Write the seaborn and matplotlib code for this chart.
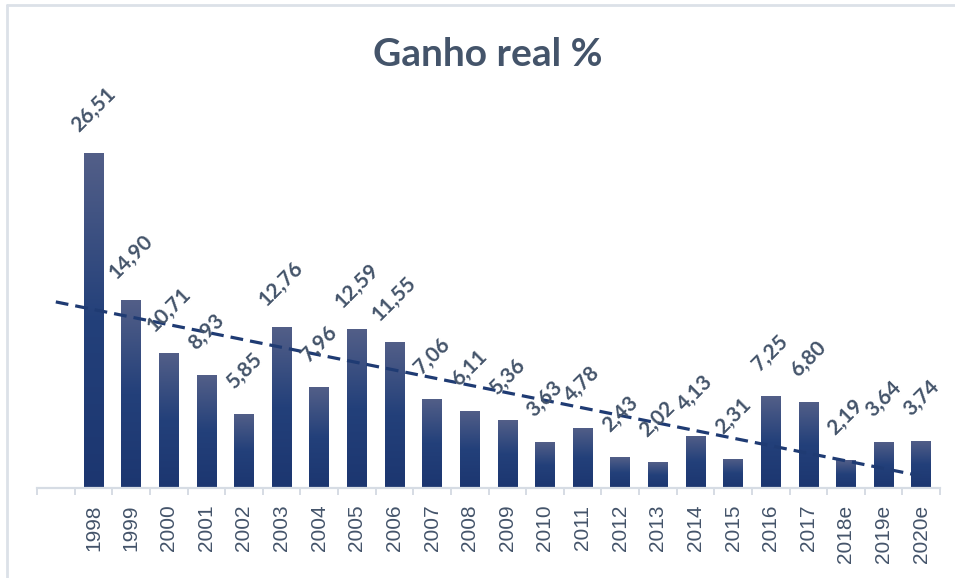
import numpy as np
import pandas as pd
import matplotlib
matplotlib.use("Agg")
import matplotlib.pyplot as plt
from matplotlib.colors import LinearSegmentedColormap
import seaborn as sns

# dados do gráfico
anos = ["1998", "1999", "2000", "2001", "2002", "2003", "2004", "2005", "2006",
        "2007", "2008", "2009", "2010", "2011", "2012", "2013", "2014", "2015",
        "2016", "2017", "2018e", "2019e", "2020e"]
ganho = [26.51, 14.90, 10.71, 8.93, 5.85, 12.76, 7.96, 12.59, 11.55, 7.06, 6.11,
         5.36, 3.63, 4.78, 2.43, 2.02, 4.13, 2.31, 7.25, 6.80, 2.19, 3.64, 3.74]
rotulos = [f"{v:.2f}".replace(".", ",") for v in ganho]

df = pd.DataFrame({"ano": anos, "ganho": ganho})
ordem = [" "] + anos  # primeira categoria vazia

sns.set_theme(style="white")
plt.rcParams["font.family"] = ["Lato", "DejaVu Sans"]

texto = "#44546A"
linha = "#1F3B73"

fig = plt.figure(figsize=(9.55, 5.78), dpi=100)
ax = fig.add_axes([37 / 955, 90 / 578, 903 / 955, (488 - 108.5) / 578])

sns.barplot(data=df, x="ano", y="ganho", order=ordem, color=linha, width=0.52,
            ax=ax, saturation=1)

# gradiente em cada barra
cmap = LinearSegmentedColormap.from_list(
    "grad", [(0.0, "#1C3670"), (0.5, "#23407A"), (1.0, "#535F88")])
grad = np.linspace(0, 1, 256).reshape(-1, 1)
for p in ax.patches:
    x0, w, h = p.get_x(), p.get_width(), p.get_height()
    if h <= 0 or np.isnan(h):
        continue
    im = ax.imshow(grad, cmap=cmap, origin="lower", aspect="auto",
                   extent=[x0, x0 + w, 0, h], zorder=2)
    im.set_clip_path(p)
    p.set_facecolor("none")
    p.set_edgecolor("none")

# rótulos de dados
for i, (v, r) in enumerate(zip(ganho, rotulos)):
    ax.annotate(r, (i + 1, v), xytext=(0, 31), textcoords="offset points",
                ha="center", va="center", rotation=45, rotation_mode="anchor",
                fontsize=15, fontweight="bold", color=texto, zorder=5)

# linha de tendência (linear)
pos = np.arange(1, len(ganho) + 1)
a, b = np.polyfit(pos, ganho, 1)
xt = np.array([0, len(ganho)])
ax.plot(xt, a * xt + b, color=linha, lw=2.3, ls=(0, (4, 2.2)), zorder=4)

ax.set_xlim(-0.5, len(ordem) - 0.5)
ax.set_ylim(0, 30)
ax.set_xlabel("")
ax.set_ylabel("")
ax.set_yticks([])
for s in ["left", "right", "top"]:
    ax.spines[s].set_visible(False)
ax.spines["bottom"].set_color("#D6DCE4")
ax.spines["bottom"].set_linewidth(1.6)

ax.set_xticks(range(len(ordem)))
ax.set_xticklabels(ordem, rotation=90, family="Liberation Sans", fontsize=15,
                   color=texto)
ax.set_xticks(np.arange(-0.5, len(ordem)), minor=True)
ax.tick_params(axis="x", which="major", length=0, pad=12)
ax.tick_params(axis="x", which="minor", bottom=True, length=5, width=1.4,
               color="#D6DCE4")

fig.text(488 / 955, 1 - 54 / 578, "Ganho real %", ha="center", va="center",
         fontsize=28, fontweight="bold", color=texto)

# moldura do gráfico
fig.add_artist(plt.Line2D([7 / 955, 7 / 955], [0, 1 - 5 / 578],
                          color="#DCE1E8", lw=2, transform=fig.transFigure))
fig.add_artist(plt.Line2D([7 / 955, 1], [1 - 5 / 578, 1 - 5 / 578],
                          color="#DCE1E8", lw=2, transform=fig.transFigure))

fig.savefig("out.png", dpi=100)
